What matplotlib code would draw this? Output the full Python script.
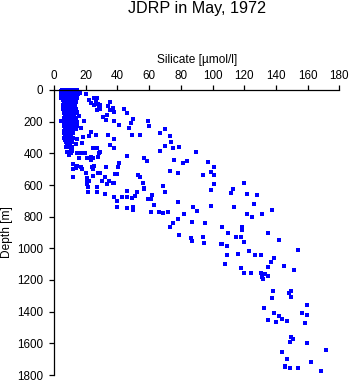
import matplotlib
matplotlib.use("Agg")
import matplotlib.pyplot as plt

plt.rcParams['font.family'] = ['Liberation Sans', 'DejaVu Sans']

title = "JDRP in May, 1972"
xlabel = "Silicate [\u00b5mol/l]"
ylabel = "Depth [m]"
xticks = [0, 20, 40, 60, 80, 100, 120, 140, 160, 180]
yticks = [0, 200, 400, 600, 800, 1000, 1200, 1400, 1600, 1800]

# dense near-surface cluster: depth levels and silicate values at each level
cluster_levels = [0, 8, 18, 28, 40, 52, 65, 78, 92, 105, 118, 132, 146, 160,
                  174, 188, 202, 216, 230, 244, 258, 272, 286, 300, 314, 328, 346, 362]
cluster_values = [
    [5.0, 7.1, 9.0, 10.9, 12.8, 14.6],
    [4.4, 6.1, 8.2, 10.1, 12.0, 13.9],
    [5.6, 7.4, 9.6, 11.6, 13.4],
    [4.7, 6.6, 8.5, 10.4, 12.4, 15.0],
    [5.3, 7.3, 9.2, 11.1, 13.1],
    [4.6, 6.8, 8.7, 10.7, 12.7, 14.3],
    [5.8, 7.8, 9.8, 11.7, 13.6],
    [6.0, 8.1, 10.1, 12.1, 14.0],
    [5.7, 7.6, 9.6, 11.6, 13.3],
    [6.3, 8.3, 10.4, 12.4],
    [5.9, 7.9, 9.9, 11.9, 13.6],
    [6.5, 8.6, 10.6, 12.5],
    [6.1, 8.1, 10.1, 12.1, 13.8],
    [6.7, 8.7, 10.8, 12.7],
    [6.3, 8.3, 10.3, 12.3, 14.1],
    [6.6, 8.6, 10.6, 12.6],
    [6.2, 8.2, 10.3, 12.3, 14.3],
    [6.8, 8.8, 10.8, 12.8],
    [6.4, 8.4, 10.4, 12.4, 14.2],
    [6.7, 8.7, 10.7, 12.6],
    [6.3, 8.3, 10.3, 12.3],
    [6.6, 8.6, 10.6, 12.1],
    [6.9, 8.9, 10.9],
    [6.4, 8.4, 10.4, 12.0],
    [7.0, 9.0, 11.0],
    [7.3, 9.3, 11.3],
    [8.0, 10.1],
    [7.6, 9.2, 11.5],
]

# scattered upper points (0-650 m)
upper_si = [14.7, 20.4, 16.4, 22.1, 25.2, 26.9, 23.2, 26.3, 28.0, 25.2, 28.4, 27.3, 14.7, 15.8,
            4.2, 18.9, 16.8, 13.7, 23.2, 26.3, 22.1, 18.5, 14.3, 13.7, 17.9, 27.3, 10.5,
            8.4, 10.5, 11.5, 9.5, 14.7, 16.8, 19.6, 28.4, 15.8, 21.0, 23.2, 23.5, 12.2, 14.7,
            13.7, 16.8, 17.9, 12.0, 24.2, 25.2, 24.8, 20.4, 24.8, 12.2, 20.6, 21.0, 22.1, 21.0,
            21.6, 21.5, 27.3, 28.0, 26.9, 24.8, 28.0, 24.4]
upper_depth = [6, 27, 17, 63, 52, 52, 80, 74, 90, 95, 112, 126, 139, 164,
               196, 196, 238, 248, 263, 286, 291, 295, 308, 343, 337, 368, 375,
               390, 400, 385, 411, 400, 400, 396, 396, 431, 431, 421, 442, 467, 480,
               495, 484, 499, 499, 488, 480, 501, 526, 541, 551, 558, 579, 573, 594,
               611, 642, 646, 526, 615, 431, 425, 368]

# scattered points 30-80 umol/l, upper 400 m
band_si = [29.0, 29.0, 35.3, 34.3, 35.3, 37.4, 38.0, 33.3, 31.1, 32.6, 38.0, 44.4, 46.3, 50.0,
           48.4, 41.2, 47.3, 59.1, 60.1, 49.2, 54.1, 34.3, 38.0, 70.2, 67.1, 73.8, 79.1, 75.3,
           70.2, 35.3, 38.0, 73.2]
band_depth = [95, 118, 76, 101, 126, 116, 141, 156, 171, 188, 194, 122, 147, 185,
              207, 223, 242, 198, 229, 286, 286, 286, 311, 244, 272, 327, 360, 366,
              356, 349, 366, 293]

# intermediate depths 380-780 m
mid_si = [29.0, 46.3, 57.0, 58.5, 66.9, 32.8, 40.6, 41.2, 29.0, 38.5, 39.9, 53.2, 54.3, 32.2,
          30.1, 34.9, 33.3, 37.0, 37.9, 56.3, 57.0, 57.0, 69.0, 70.2, 46.3, 52.2, 32.2, 38.0,
          39.6, 42.7, 46.3, 49.0, 51.1, 61.6, 61.0, 59.1, 63.1, 39.6, 46.3, 50.0, 50.0, 61.0,
          66.3, 69.0, 72.1]
mid_depth = [390, 417, 428, 448, 383, 484, 484, 459, 526, 532, 532, 537, 548, 551,
             573, 575, 596, 585, 585, 589, 617, 625, 604, 646, 636, 642, 657, 678,
             699, 678, 678, 684, 669, 663, 688, 690, 726, 737, 747, 737, 758, 772,
             772, 779, 769]

# 390-1130 m, higher silicate
lower_si = [89.4, 75.9, 81.2, 84.1, 97.0, 101.2, 73.2, 78.1, 99.1, 101.2, 94.2, 101.2, 120.1,
            113.1, 99.3, 111.9, 122.0, 127.9, 78.1, 126.2, 87.9, 90.0, 99.3, 113.8, 137.7,
            82.2, 122.0, 131.1, 125.1, 78.1, 75.3, 87.3, 95.3, 73.2, 106.2, 118.8, 79.1, 86.3,
            87.3, 94.2, 94.8, 110.0, 114.8, 118.0, 118.8, 120.1, 134.8, 142.2, 105.2, 106.2,
            109.0, 122.9, 115.9, 109.0, 127.0, 130.6, 139.0, 136.9, 145.1, 135.2, 118.0, 108.1]
lower_depth = [393, 442, 463, 448, 453, 488, 510, 526, 520, 537, 537, 594, 589,
               627, 634, 649, 659, 661, 705, 722, 741, 764, 735, 741, 758,
               783, 783, 785, 804, 817, 842, 832, 842, 867, 867, 867, 916, 937,
               954, 930, 964, 905, 927, 930, 884, 962, 905, 947, 975, 975,
               983, 1017, 1038, 1044, 1042, 1042, 1063, 1088, 1114, 1120, 1126, 1101]

# deep points
deep_si = [153.8, 151.6, 130.6, 131.1, 132.1, 133.1, 135.2, 120.1, 124.1, 138.0, 137.7, 132.7,
           139.0, 135.2, 140.1, 142.0, 144.1, 146.8, 148.5, 149.7, 149.7, 159.8, 156.3, 159.8,
           158.6, 149.7, 151.0, 149.1, 159.8, 171.8, 144.1, 146.8, 162.0, 145.8, 145.8, 149.1,
           154.2, 168.7]
deep_depth = [1011, 1137, 1158, 1179, 1194, 1162, 1175, 1154, 1158, 1270, 1312, 1379,
              1410, 1453, 1463, 1426, 1448, 1459, 1280, 1271, 1306, 1360, 1410, 1423,
              1474, 1558, 1571, 1594, 1600, 1642, 1657, 1697, 1716, 1741, 1751, 1758,
              1758, 1773]

W, H = 351, 384
fig = plt.figure(figsize=(W / 100, H / 100), dpi=100)
ax = fig.add_axes([54 / W, 1 - 375 / H, (339.3 - 54) / W, (375 - 90) / H])

cl_si = [v for row in cluster_values for v in row]
cl_d = [lvl for lvl, row in zip(cluster_levels, cluster_values) for _ in row]

style = dict(marker='s', s=5.0, color='#0000ff', linewidths=0, clip_on=False)
ax.scatter(cl_si, cl_d, **style)
for xs, ys in [(upper_si, upper_depth), (band_si, band_depth), (mid_si, mid_depth),
               (lower_si, lower_depth), (deep_si, deep_depth)]:
    ax.scatter(xs, ys, **style)

ax.set_xlim(0, 180)
ax.set_ylim(1800, 0)
ax.set_xticks(xticks)
ax.set_yticks(yticks)
ax.xaxis.tick_top()
ax.xaxis.set_label_position('top')
for s in ['right', 'bottom']:
    ax.spines[s].set_visible(False)
for s in ['left', 'top']:
    ax.spines[s].set_linewidth(0.9)
ax.tick_params(direction='out', length=3.6, width=0.9, labelsize=8.4, colors='black')
ax.tick_params(axis='x', pad=2.5)
ax.tick_params(axis='y', pad=4.5)
ax.set_xlabel(xlabel, fontsize=8.6, labelpad=5)
ax.set_ylabel(ylabel, fontsize=8.6, labelpad=3)
fig.text(196.7 / W, 1 - 9 / H, title, ha='center', va='center', fontsize=11.6)

fig.savefig("out.png", dpi=100)
